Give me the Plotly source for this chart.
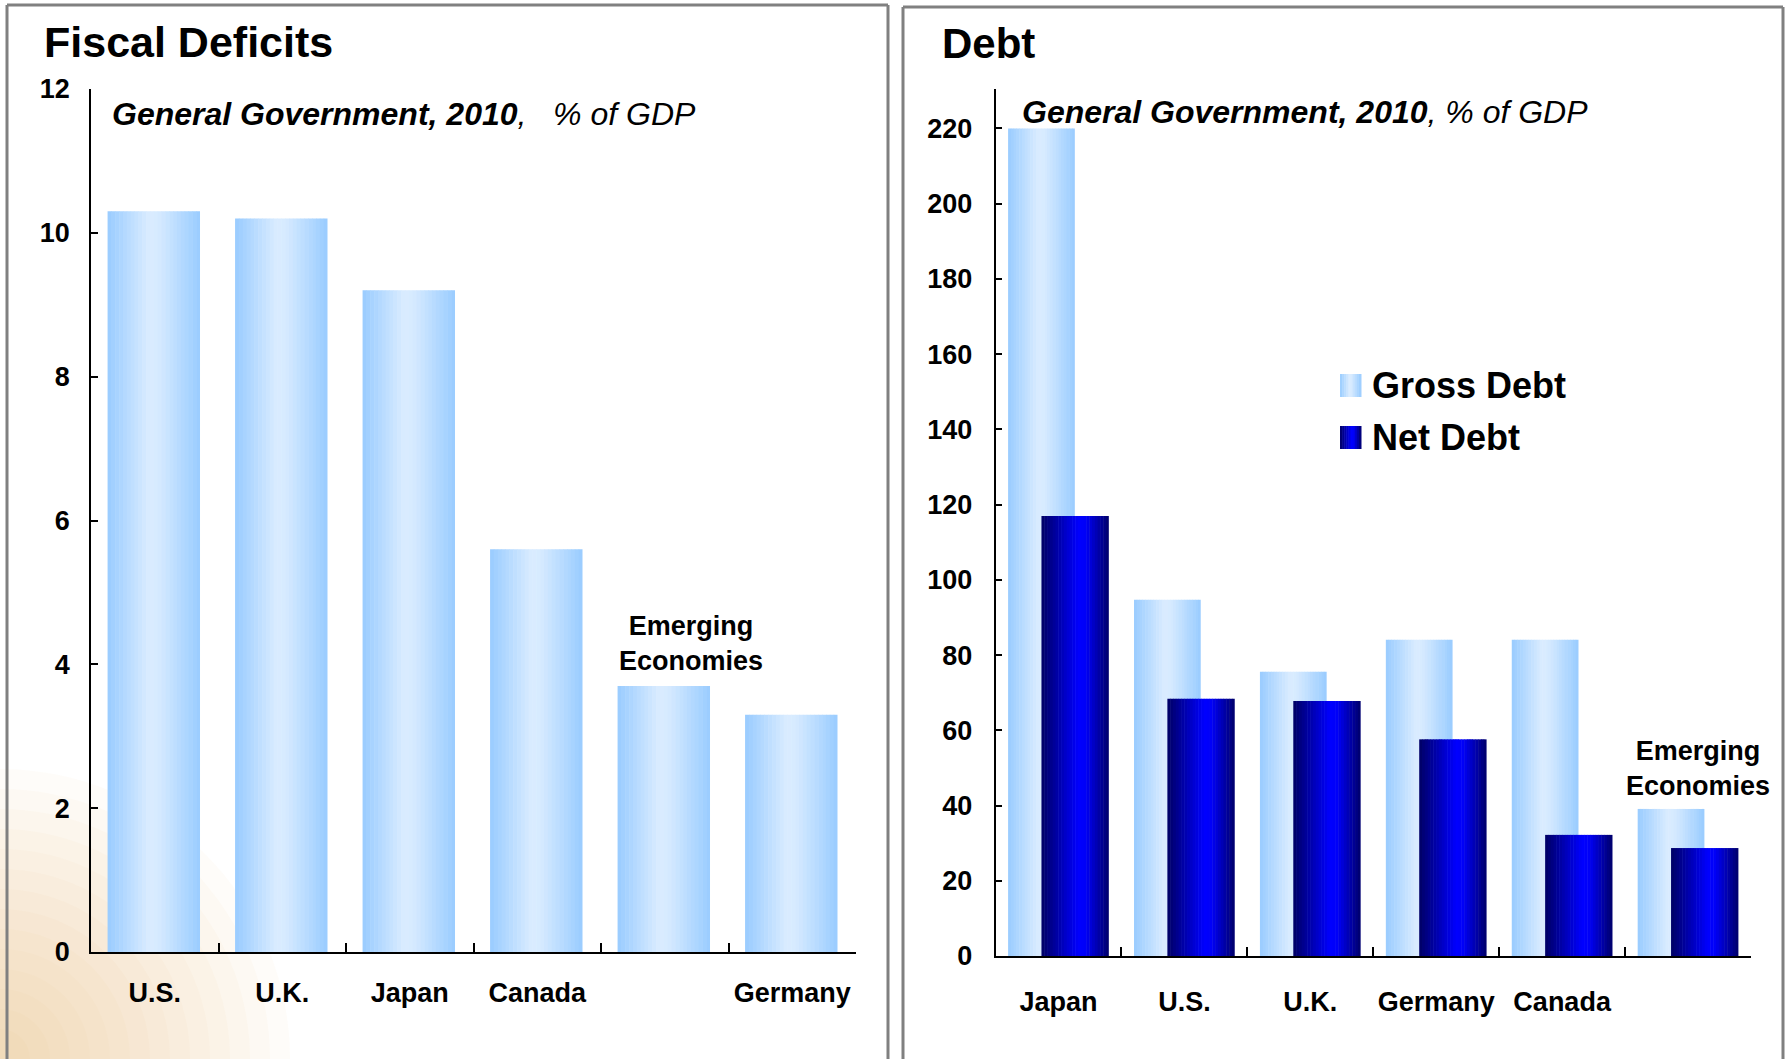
import plotly.graph_objects as go

# ---- data -------------------------------------------------------------
deficit_countries = ["U.S.", "U.K.", "Japan", "Canada", "Emerging Economies", "Germany"]
deficit_labels = ["U.S.", "U.K.", "Japan", "Canada", "", "Germany"]
deficit_values = [10.3, 10.2, 9.2, 5.6, 3.7, 3.3]
deficit_ticks = [0, 2, 4, 6, 8, 10, 12]

debt_countries = ["Japan", "U.S.", "U.K.", "Germany", "Canada", "Emerging Economies"]
debt_labels = ["Japan", "U.S.", "U.K.", "Germany", "Canada", ""]
gross_debt = [220.0, 94.7, 75.6, 84.1, 84.1, 39.1]
net_debt = [117.0, 68.4, 67.8, 57.6, 32.2, 28.7]
debt_ticks = [0, 20, 40, 60, 80, 100, 120, 140, 160, 180, 200, 220]

W, H = 1790, 1059
FONT = "Liberation Sans, Arial, sans-serif"

# horizontal colour ramps used to shade the bars
LIGHT_RAMP = [(0.0, (153, 204, 255)), (0.45, (218, 236, 255)),
              (0.55, (214, 234, 255)), (1.0, (153, 204, 255))]
DARK_RAMP = [(0.0, (0, 0, 100)), (0.55, (0, 0, 255)),
             (0.65, (0, 0, 248)), (1.0, (0, 0, 105))]


def ramp_color(stops, t):
    for (t0, c0), (t1, c1) in zip(stops[:-1], stops[1:]):
        if t <= t1:
            f = 0 if t1 == t0 else (t - t0) / (t1 - t0)
            c = [round(a + (b - a) * f) for a, b in zip(c0, c1)]
            return "rgb(%d,%d,%d)" % tuple(c)
    return "rgb(%d,%d,%d)" % stops[-1][1]


def shaded_bars(fig, cats, vals, offset, width, stops, xa, ya, n=24):
    """Draw one bar series as thin vertical slices to get a gradient fill."""
    step = width / n
    for i in range(n):
        t = (i + 0.5) / n
        fig.add_trace(go.Bar(
            x=cats, y=vals, offset=offset + i * step,
            width=step + (0.004 if i < n - 1 else 0),
            marker=dict(color=ramp_color(stops, t), line=dict(width=0)),
            xaxis=xa, yaxis=ya, showlegend=False, hoverinfo="skip",
        ))


def px(x, y):
    return x / W, 1 - y / H


fig = go.Figure()

shaded_bars(fig, deficit_countries, deficit_values, -0.37, 0.725, LIGHT_RAMP, "x", "y")
shaded_bars(fig, debt_countries, gross_debt, -0.40, 0.53, LIGHT_RAMP, "x2", "y2")
shaded_bars(fig, debt_countries, net_debt, -0.135, 0.535, DARK_RAMP, "x2", "y2")

axis_font = dict(family=FONT, size=27, color="black", weight="bold")
common_x = dict(type="category", showline=True, linecolor="black", linewidth=2,
                ticks="inside", ticklen=9, tickwidth=1.5, tickcolor="black",
                tickson="boundaries", showgrid=False, zeroline=False,
                tickfont=axis_font, ticklabelstandoff=16, fixedrange=True,
                automargin=False, tickangle=0)
common_y = dict(showline=True, linecolor="black", linewidth=1.5,
                ticks="inside", ticklen=7, tickwidth=1.5, tickcolor="black",
                showgrid=False, zeroline=False, tickfont=axis_font,
                ticklabelstandoff=14, fixedrange=True, automargin=False)

fig.update_layout(
    width=W, height=H, margin=dict(l=0, r=0, t=0, b=0, pad=0),
    paper_bgcolor="white", plot_bgcolor="rgba(0,0,0,0)",
    barmode="overlay", showlegend=False,
    font=dict(family=FONT, color="black"),
    xaxis=dict(common_x, domain=[91 / W, 856 / W], range=[-0.5, 5.5],
               categoryorder="array", categoryarray=deficit_countries,
               tickvals=deficit_countries, ticktext=deficit_labels, anchor="y"),
    yaxis=dict(common_y, domain=[1 - 952 / H, 1 - 89 / H], range=[0, 12],
               tickvals=deficit_ticks, anchor="x"),
    xaxis2=dict(common_x, domain=[995.5 / W, 1751 / W], range=[-0.5, 5.5],
                categoryorder="array", categoryarray=debt_countries,
                tickvals=debt_countries, ticktext=debt_labels, anchor="y2",
                ticklabelstandoff=21),
    yaxis2=dict(common_y, domain=[1 - 956 / H, 1 - 89 / H], range=[0, 230.5],
                tickvals=debt_ticks, anchor="x2", ticklabelstandoff=16),
)

shapes = []
# soft warm glow in the lower-left corner of the page
for k in range(14):
    r = 30 + k * 20
    x0, y0 = px(-r, H + r)
    x1, y1 = px(r, H - r)
    shapes.append(dict(type="circle", xref="paper", yref="paper", layer="below",
                       x0=x0, y0=y0, x1=x1, y1=y1, line=dict(width=0),
                       fillcolor="rgba(240,190,115,0.045)"))

# panel frames
for left, right, top in [(7, 888, 5), (903, 1783, 7)]:
    for (xa, ya, xb, yb) in [(left, H, left, top), (left, top, right, top),
                             (right, top, right, H)]:
        x0, y0 = px(xa, ya)
        x1, y1 = px(xb, yb)
        shapes.append(dict(type="line", xref="paper", yref="paper",
                           x0=x0, y0=y0, x1=x1, y1=y1,
                           line=dict(color="#808080", width=3)))

# legend swatches (sliced to show the same shading as the bars)
n_sw = 10
for (top, bottom, stops) in [(374, 397, LIGHT_RAMP), (426, 449, DARK_RAMP)]:
    left, right = 1340, 1361
    step = (right - left) / n_sw
    for i in range(n_sw):
        x0, y0 = px(left + i * step, bottom)
        x1, y1 = px(left + (i + 1) * step + 0.5, top)
        shapes.append(dict(type="rect", xref="paper", yref="paper",
                           x0=x0, y0=y0, x1=x1, y1=y1, line=dict(width=0),
                           fillcolor=ramp_color(stops, (i + 0.5) / n_sw)))

fig.update_layout(shapes=shapes)

ann = []


def text(x, y, s, size, **kw):
    xp, yp = px(x, y)
    d = dict(xref="paper", yref="paper", x=xp, y=yp, text=s, showarrow=False,
             xanchor="left", yanchor="middle",
             font=dict(family=FONT, size=size, color="black"))
    d.update(kw)
    ann.append(d)


text(42, 42, "<b>Fiscal Deficits</b>", 43)
text(940, 43, "<b>Debt</b>", 42)
text(110, 114, "<i><b>General Government, 2010</b>,\u00a0\u00a0 % of GDP</i>", 32)
text(1020, 112, "<i><b>General Government, 2010</b>, % of GDP</i>", 32)
text(1370, 386, "<b>Gross Debt</b>", 36)
text(1370, 437, "<b>Net Debt</b>", 36)

# labels sitting on top of the emerging-economies bars
ann.append(dict(xref="x", yref="y", x=deficit_countries[4], y=deficit_values[4],
                text="<b>Emerging<br>Economies</b>", showarrow=False,
                xanchor="center", yanchor="bottom", xshift=26, yshift=8,
                font=dict(family=FONT, size=27, color="black")))
ann.append(dict(xref="x2", yref="y2", x=debt_countries[5], y=gross_debt[5],
                text="<b>Emerging<br>Economies</b>", showarrow=False,
                xanchor="center", yanchor="bottom", xshift=10, yshift=6,
                font=dict(family=FONT, size=27, color="black")))

fig.update_layout(annotations=ann)

fig.write_html("out.html")
